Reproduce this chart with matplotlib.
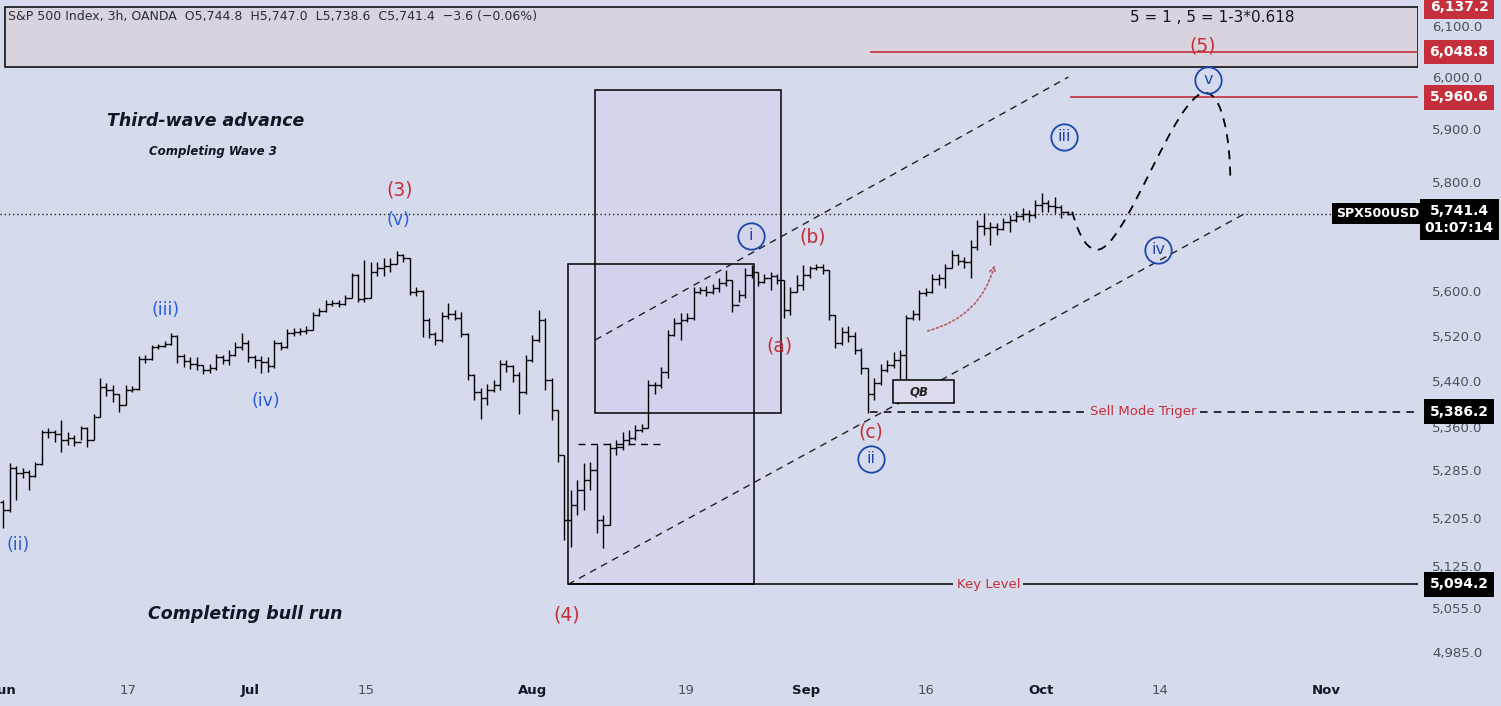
import matplotlib
matplotlib.use("Agg")
import matplotlib.pyplot as plt
import matplotlib.transforms as mtransforms
from matplotlib.patches import Rectangle, PathPatch, FancyArrowPatch
from matplotlib.path import Path
from matplotlib.ticker import FixedLocator, NullLocator
import numpy as np

plt.rcParams['font.family'] = ['DejaVu Sans']

first_open = 5232
closes = [5218, 5289, 5281, 5283, 5276, 5296, 5350, 5351, 5348, 5337,
          5341, 5334, 5357, 5337, 5377, 5429, 5424, 5416, 5398, 5424,
          5426, 5479, 5479, 5500, 5502, 5505, 5519, 5484, 5475, 5470,
          5468, 5459, 5463, 5481, 5477, 5486, 5500, 5507, 5482, 5477,
          5473, 5466, 5507, 5500, 5525, 5527, 5528, 5530, 5557, 5564,
          5577, 5579, 5577, 5588, 5629, 5586, 5588, 5634, 5642, 5646,
          5649, 5666, 5659, 5598, 5600, 5548, 5523, 5512, 5555, 5559,
          5552, 5523, 5451, 5421, 5410, 5424, 5433, 5470, 5466, 5451,
          5421, 5477, 5512, 5548, 5442, 5389, 5311, 5201, 5226, 5252,
          5269, 5286, 5201, 5193, 5323, 5325, 5337, 5341, 5355, 5358,
          5433, 5433, 5456, 5521, 5543, 5548, 5552, 5598, 5602, 5598,
          5605, 5614, 5620, 5575, 5593, 5629, 5634, 5616, 5624, 5627,
          5620, 5566, 5598, 5611, 5629, 5642, 5644, 5638, 5557, 5507,
          5527, 5519, 5495, 5463, 5416, 5436, 5459, 5468, 5477, 5486,
          5552, 5559, 5597, 5598, 5622, 5624, 5642, 5666, 5655, 5653,
          5680, 5718, 5715, 5717, 5713, 5726, 5730, 5737, 5741, 5739,
          5757, 5761, 5756, 5754, 5744.8, 5741.4]
highs = [5235, 5298, 5293, 5289, 5286, 5300, 5355, 5357, 5355, 5372,
         5350, 5346, 5362, 5360, 5382, 5445, 5436, 5433, 5416, 5433,
         5431, 5484, 5486, 5503, 5505, 5510, 5525, 5521, 5488, 5481,
         5481, 5468, 5470, 5488, 5486, 5495, 5509, 5525, 5512, 5486,
         5484, 5481, 5512, 5509, 5532, 5534, 5534, 5537, 5562, 5570,
         5584, 5584, 5584, 5593, 5632, 5631, 5657, 5653, 5653, 5660,
         5660, 5673, 5668, 5660, 5607, 5602, 5552, 5527, 5562, 5579,
         5566, 5562, 5525, 5452, 5428, 5435, 5442, 5477, 5477, 5468,
         5456, 5486, 5521, 5566, 5552, 5445, 5389, 5311, 5252, 5269,
         5298, 5300, 5329, 5210, 5332, 5337, 5351, 5355, 5363, 5365,
         5442, 5438, 5464, 5530, 5552, 5561, 5561, 5607, 5607, 5609,
         5613, 5624, 5638, 5620, 5602, 5642, 5647, 5634, 5631, 5634,
         5631, 5620, 5607, 5629, 5647, 5646, 5649, 5649, 5638, 5557,
         5536, 5537, 5527, 5498, 5463, 5445, 5470, 5477, 5491, 5495,
         5557, 5566, 5602, 5605, 5631, 5631, 5649, 5675, 5668, 5662,
         5693, 5730, 5743, 5726, 5724, 5734, 5739, 5746, 5752, 5748,
         5767, 5780, 5767, 5772, 5757, 5747.0]
lows = [5188, 5215, 5235, 5272, 5252, 5274, 5294, 5341, 5334, 5317,
        5329, 5327, 5337, 5325, 5337, 5377, 5414, 5403, 5386, 5398,
        5421, 5424, 5472, 5477, 5496, 5500, 5503, 5472, 5464, 5461,
        5459, 5452, 5454, 5459, 5470, 5468, 5484, 5495, 5473, 5463,
        5454, 5456, 5463, 5495, 5498, 5519, 5521, 5523, 5530, 5555,
        5562, 5573, 5571, 5575, 5588, 5580, 5580, 5588, 5627, 5627,
        5634, 5649, 5653, 5593, 5591, 5518, 5516, 5503, 5509, 5550,
        5548, 5518, 5442, 5407, 5374, 5398, 5421, 5424, 5456, 5438,
        5382, 5416, 5473, 5509, 5424, 5372, 5300, 5168, 5156, 5210,
        5218, 5252, 5180, 5154, 5193, 5311, 5320, 5329, 5337, 5351,
        5358, 5416, 5428, 5445, 5519, 5512, 5544, 5548, 5595, 5591,
        5595, 5598, 5609, 5562, 5580, 5588, 5624, 5609, 5614, 5602,
        5613, 5552, 5557, 5598, 5602, 5624, 5638, 5631, 5548, 5498,
        5503, 5509, 5488, 5452, 5384, 5407, 5433, 5456, 5463, 5403,
        5416, 5548, 5548, 5591, 5597, 5611, 5605, 5642, 5647, 5642,
        5624, 5675, 5702, 5684, 5702, 5711, 5708, 5726, 5730, 5726,
        5734, 5745, 5745, 5743, 5734, 5738.6]

# axis ticks (x in bar units)
price_ticks = [6100, 6000, 5900, 5800, 5600, 5520, 5440, 5360, 5285, 5205, 5125, 5055, 4985]
date_ticks = [0.28, 19.35, 38.26, 56.24, 81.98, 105.86, 124.46, 143.07, 160.9, 179.34, 205.08]
date_labels = ['Jun', '17', 'Jul', '15', 'Aug', '19', 'Sep', '16', 'Oct', '14', 'Nov']
month_labels = {'Jun', 'Jul', 'Aug', 'Sep', 'Oct', 'Nov'}

# key levels
last_price = 5741.4
box_top, box_bottom = 6137.2, 6020
target_1, target_2 = 6048.8, 5960.6
sell_trigger = 5386.2
key_level = 5094.2

bg = '#d5daed'
red = '#c42f3b'
blue_light = '#2c5fd6'
blue_dark = '#1c47ad'
ink = '#131722'

fig = plt.figure(figsize=(15.01, 7.06), dpi=100)
fig.patch.set_facecolor(bg)
ax = fig.add_axes([0, 32 / 706, 1418 / 1501, 674 / 706])
ax.set_facecolor(bg)
ax.set_yscale('log')
ax.set_xlim(-0.5, 219.3)
ax.set_ylim(4949, 6151)
for s in ax.spines.values():
    s.set_visible(False)

ax.yaxis.tick_right()
ax.yaxis.set_major_locator(FixedLocator(price_ticks))
ax.yaxis.set_minor_locator(NullLocator())
ax.set_yticklabels([f"{v:,.1f}" for v in price_ticks])
ax.set_xticks(date_ticks)
ax.set_xticklabels(date_labels)
ax.tick_params(axis='y', length=0, pad=10, labelsize=9.5, labelcolor='#4c505c')
ax.tick_params(axis='x', length=0, pad=7, labelsize=9.5, labelcolor='#4c505c')
for lab in ax.get_xticklabels():
    if lab.get_text() in month_labels:
        lab.set_fontweight('bold')
        lab.set_color(ink)

trans = mtransforms.blended_transform_factory(ax.transAxes, ax.transData)

# top target zone
ax.add_patch(Rectangle((0.28, box_bottom), 219.3 - 0.28, box_top - box_bottom,
                       fc='#d9d3dd', ec='black', lw=1.1, zorder=1))

# boxes around the August swing
ax.add_patch(Rectangle((87.56, key_level), 116.4 - 87.56, 5649 - key_level,
                       fc='#d2c9f0', alpha=0.22, ec='none', zorder=1))
ax.add_patch(Rectangle((91.75, 5383), 120.6 - 91.75, 5975.4 - 5383,
                       fc='#d2c9f0', alpha=0.3, ec='none', zorder=1))
ax.add_patch(Rectangle((87.56, key_level), 116.4 - 87.56, 5649 - key_level,
                       fc='none', ec='black', lw=1.1, zorder=2))
ax.add_patch(Rectangle((91.75, 5383), 120.6 - 91.75, 5975.4 - 5383,
                       fc='none', ec='black', lw=1.1, zorder=2))
ax.hlines(5330, 89.1, 102.1, color='black', lw=1, linestyles=(0, (5, 4)), zorder=2)

# price channel
ax.plot([91.75, 165.1], [5512, 6000], color='#222', lw=1, ls=(0, (5, 4)), zorder=2)
ax.plot([87.56, 193.0], [key_level, 5745], color='#222', lw=1, ls=(0, (5, 4)), zorder=2)

# OHLC bars
x = np.arange(len(closes))
opens = [first_open] + closes[:-1]
ax.vlines(x, lows, highs, color='black', lw=1.0, zorder=4)
ax.hlines(opens, x - 0.5, x, color='black', lw=1.0, zorder=4)
ax.hlines(closes, x, x + 0.5, color='black', lw=1.0, zorder=4)

# horizontal levels
ax.hlines(last_price, -0.5, 206.5, color='#222', lw=1, linestyles=(0, (1, 2)), zorder=3)
ax.hlines(target_1, 134.4, 219.3, color=red, lw=1.2, zorder=3)
ax.hlines(target_2, 165.4, 219.3, color=red, lw=1.2, zorder=3)
ax.hlines(sell_trigger, 134.4, 219.3, color='black', lw=1.1, linestyles=(0, (5, 4)), zorder=3)
ax.hlines(key_level, 87.56, 219.3, color='black', lw=1.1, zorder=3)
ax.text(176.7, sell_trigger, 'Sell Mode Triger', color=red, fontsize=9.5, ha='center', va='center',
        bbox=dict(boxstyle='square,pad=0.25', fc=bg, ec='none'), zorder=5)
ax.text(152.7, key_level, 'Key Level', color=red, fontsize=9.5, ha='center', va='center',
        bbox=dict(boxstyle='square,pad=0.25', fc=bg, ec='none'), zorder=5)

# order block
ax.add_patch(Rectangle((137.9, 5401.7), 147.3 - 137.9, 5442 - 5401.7,
                       fc='#dcdcee', ec='black', lw=1.1, zorder=5))
ax.text(141.9, 5421, 'QB', fontsize=8.5, fontweight='bold', style='italic', color='#222',
        ha='center', va='center', zorder=6)

# projected path
proj = Path([(165.7, 5745), (166.9, 5693), (168.2, 5675), (169.6, 5675),
             (173.9, 5675), (181.7, 5969.6), (186.3, 5969.6),
             (189.0, 5969.6), (190.2, 5880), (190.2, 5804)],
            [Path.MOVETO] + [Path.CURVE4] * 9)
ax.add_patch(PathPatch(proj, fc='none', ec='black', lw=1.3, ls=(0, (5, 4)), zorder=3))

# red dotted arrow
ax.add_patch(FancyArrowPatch((142.9, 5527), (153.8, 5652), connectionstyle='arc3,rad=0.3',
                             arrowstyle='->', mutation_scale=10, color='#b8646d', lw=1.3,
                             ls=(0, (1, 1.5)), zorder=3))

# wave labels
for txt, xx, yy in [('(3)', 61.5, 5786), ('(4)', 87.4, 5044), ('(5)', 185.9, 6060.8),
                    ('(a)', 120.3, 5502), ('(b)', 125.4, 5699), ('(c)', 134.5, 5351)]:
    ax.text(xx, yy, txt, color=red, fontsize=13.5, ha='center', va='center', zorder=6)
for txt, xx, yy in [('(v)', 61.2, 5730), ('(iii)', 25.2, 5566), ('(iv)', 40.7, 5405), ('(ii)', 2.3, 5160)]:
    ax.text(xx, yy, txt, color=blue_light, fontsize=12.5, ha='center', va='center', zorder=6)
for txt, xx, yy in [('i', 115.9, 5700.5), ('ii', 134.5, 5305), ('iii', 164.5, 5885.5),
                    ('iv', 179.0, 5675), ('v', 186.8, 5994.7)]:
    ax.plot(xx, yy, 'o', ms=19, mfc='none', mec=blue_dark, mew=1.3, zorder=6)
    ax.text(xx, yy, txt, color=blue_dark, fontsize=11.5, ha='center', va='center', zorder=6)

# notes
ax.text(31.3, 5916, 'Third-wave advance', fontsize=12.5, fontweight='bold', style='italic',
        color=ink, ha='center', va='center')
ax.text(32.5, 5857, 'Completing Wave 3', fontsize=8.5, fontweight='bold', style='italic',
        color=ink, ha='center', va='center')
ax.text(37.5, 5046, 'Completing bull run', fontsize=12.5, fontweight='bold', style='italic',
        color=ink, ha='center', va='center')
ax.text(187.4, 6115.7, '5 = 1 , 5 = 1-3*0.618', fontsize=11, color=ink, ha='center', va='center')
ax.text(0.0056, 0.976, 'S&P 500 Index, 3h, OANDA  O5,744.8  H5,747.0  L5,738.6  C5,741.4  \u22123.6 (\u22120.06%)',
        transform=ax.transAxes, fontsize=9, color='#2a2e39', ha='left', va='center')

# price scale tags
def price_tag(y, text, bg_col):
    ax.text(1.029, y, text, transform=trans, ha='center', va='center', fontsize=10,
            fontweight='bold', color='white', clip_on=False, zorder=10,
            bbox=dict(boxstyle='square,pad=0.38', fc=bg_col, ec='none'))

price_tag(box_top, '6,137.2', red)
price_tag(target_1, '6,048.8', red)
price_tag(target_2, '5,960.6', red)
price_tag(sell_trigger, '5,386.2', 'black')
price_tag(key_level, '5,094.2', 'black')
ax.annotate('5,741.4\n01:07:14', xy=(1.029, last_price), xycoords=trans, xytext=(0, 7),
            textcoords='offset points', ha='center', va='top', fontsize=10, fontweight='bold',
            color='white', linespacing=1.25, annotation_clip=False, zorder=10,
            bbox=dict(boxstyle='square,pad=0.35', fc='black', ec='none'))
ax.text(0.9718, last_price, 'SPX500USD', transform=trans, ha='center', va='center', fontsize=9,
        fontweight='bold', color='white', zorder=10,
        bbox=dict(boxstyle='square,pad=0.35', fc='black', ec='none'))

fig.savefig('out.png', dpi=100, facecolor=bg)
